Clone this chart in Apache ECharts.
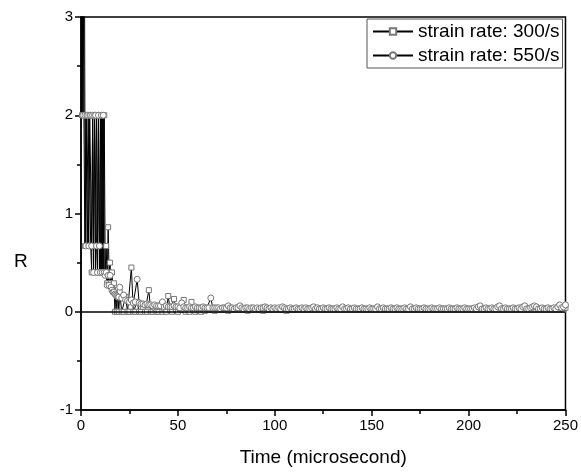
<!DOCTYPE html>
<html>
<head>
<meta charset="utf-8">
<script src="https://cdn.jsdelivr.net/npm/echarts@6/dist/echarts.min.js"></script>
<style>
html, body { margin: 0; padding: 0; background: #fff; }
#chart1 { width: 581px; height: 472px; }
</style>
</head>
<body>
<div id="chart1"></div>
<script>
// sampling: every 0.5 us up to 20 us, then every 1 us up to 250 us
var dtEarly = 0.5
var tSwitch = 20
var dtLate = 1

var seriesNames = ['strain rate: 300/s', 'strain rate: 550/s']

// R, strain rate 300/s, t = 0 ... 20 (step 0.5)
var r300Early = [
    4, 2, 4, 2, 0.67, 2, 2, 0.67, 2, 2,
    0.67, 0.4, 2, 0.67, 2, 0.4, 2, 0.67, 2, 0.4,
    2, 0.4, 2, 0.4, 2, 0.4, 0.67, 0.29, 0.86, 0.4,
    0.5, 0.29, 0.4, 0.22, 0.29, 0, 0.2, 0, 0.22, 0,
    0.2
]
// R, strain rate 300/s, t = 21 ... 250 (step 1)
var r300Late = [
    0, 0, 0.15, 0, 0, 0.45, 0, 0, 0.1,
    0, 0, 0.05, 0, 0, 0.22, 0, 0, 0.04, 0,
    0, 0.05, 0, 0.03, 0, 0.16, 0.02, 0, 0.13, 0.02,
    0, 0.03, 0.02, 0.12, 0, 0.02, 0, 0.1, 0.02, 0,
    0.02, 0.01, 0, 0.02, 0.01, 0.02, 0.03, 0.02, 0.02, 0.01,
    0.02, 0.02, 0.03, 0.02, 0.02, 0.02, 0.01, 0.02, 0.02, 0.03,
    0.02, 0.02, 0.02, 0.03, 0.02, 0.02, 0.01, 0.02, 0.02, 0.02,
    0.03, 0.02, 0.02, 0.02, 0.01, 0.02, 0.03, 0.02, 0.02, 0.02,
    0.02, 0.03, 0.02, 0.02, 0.02, 0.02, 0.01, 0.02, 0.02, 0.03,
    0.02, 0.02, 0.02, 0.02, 0.03, 0.02, 0.02, 0.02, 0.02, 0.02,
    0.03, 0.02, 0.02, 0.02, 0.02, 0.02, 0.03, 0.02, 0.02, 0.02,
    0.02, 0.02, 0.03, 0.02, 0.02, 0.02, 0.02, 0.03, 0.02, 0.02,
    0.02, 0.02, 0.02, 0.03, 0.02, 0.02, 0.02, 0.02, 0.02, 0.03,
    0.02, 0.02, 0.02, 0.02, 0.02, 0.02, 0.03, 0.02, 0.02, 0.02,
    0.02, 0.03, 0.02, 0.02, 0.02, 0.02, 0.02, 0.02, 0.03, 0.02,
    0.02, 0.02, 0.02, 0.03, 0.02, 0.02, 0.02, 0.02, 0.02, 0.02,
    0.03, 0.02, 0.02, 0.02, 0.02, 0.02, 0.03, 0.02, 0.02, 0.02,
    0.02, 0.02, 0.02, 0.03, 0.02, 0.02, 0.02, 0.02, 0.02, 0.03,
    0.02, 0.02, 0.02, 0.02, 0.02, 0.03, 0.02, 0.02, 0.02, 0.02,
    0.02, 0.02, 0.03, 0.02, 0.02, 0.02, 0.02, 0.03, 0.02, 0.02,
    0.02, 0.02, 0.02, 0.02, 0.03, 0.02, 0.02, 0.02, 0.02, 0.02,
    0.03, 0.02, 0.02, 0.02, 0.02, 0.02, 0.02, 0.03, 0.02, 0.02,
    0.02, 0.02, 0.03, 0.02, 0.02, 0.02, 0.02, 0.02, 0.03, 0.02,
    0.04
]

// R, strain rate 550/s, t = 0 ... 20 (step 0.5)
var r550Early = [
    6, 3.5, 2, 6, 2, 0.67, 2, 2, 0.67, 2,
    2, 0.67, 2, 0.4, 2, 2, 0.67, 0.4, 2, 0.67,
    0.4, 2, 0.4, 2, 0.4, 0.37, 0.4, 0.27, 0.37, 0.27,
    0.37, 0.25, 0.22, 0.2, 0.2, 0.18, 0.17, 0.16, 0.15, 0.15,
    0.25
]
// R, strain rate 550/s, t = 21 ... 250 (step 1)
var r550Late = [
    0.14, 0.17, 0.12, 0.11, 0.1, 0.12, 0.09, 0.1, 0.33,
    0.09, 0.08, 0.08, 0.07, 0.08, 0.07, 0.07, 0.06, 0.07, 0.06,
    0.06, 0.06, 0.1, 0.05, 0.06, 0.05, 0.05, 0.05, 0.06, 0.05,
    0.05, 0.04, 0.09, 0.05, 0.04, 0.04, 0.05, 0.04, 0.04, 0.05,
    0.04, 0.04, 0.04, 0.05, 0.04, 0.04, 0.04, 0.14, 0.04, 0.04,
    0.04, 0.04, 0.03, 0.04, 0.04, 0.04, 0.06, 0.04, 0.04, 0.03,
    0.04, 0.04, 0.06, 0.04, 0.03, 0.04, 0.04, 0.03, 0.04, 0.04,
    0.03, 0.04, 0.03, 0.04, 0.04, 0.05, 0.04, 0.03, 0.04, 0.03,
    0.04, 0.03, 0.04, 0.03, 0.05, 0.04, 0.03, 0.03, 0.04, 0.03,
    0.03, 0.04, 0.03, 0.03, 0.04, 0.03, 0.04, 0.03, 0.03, 0.04,
    0.05, 0.03, 0.04, 0.03, 0.03, 0.04, 0.03, 0.03, 0.04, 0.03,
    0.03, 0.03, 0.04, 0.03, 0.03, 0.05, 0.03, 0.03, 0.04, 0.03,
    0.03, 0.04, 0.03, 0.03, 0.03, 0.04, 0.03, 0.03, 0.03, 0.04,
    0.03, 0.03, 0.03, 0.05, 0.03, 0.03, 0.04, 0.03, 0.03, 0.03,
    0.04, 0.03, 0.03, 0.04, 0.03, 0.03, 0.03, 0.04, 0.03, 0.03,
    0.05, 0.03, 0.03, 0.04, 0.03, 0.03, 0.03, 0.04, 0.03, 0.03,
    0.03, 0.04, 0.03, 0.03, 0.03, 0.04, 0.03, 0.03, 0.03, 0.03,
    0.04, 0.03, 0.03, 0.03, 0.04, 0.03, 0.03, 0.03, 0.04, 0.03,
    0.03, 0.03, 0.03, 0.04, 0.03, 0.05, 0.06, 0.03, 0.03, 0.04,
    0.03, 0.03, 0.04, 0.03, 0.03, 0.05, 0.06, 0.03, 0.03, 0.04,
    0.03, 0.03, 0.03, 0.04, 0.03, 0.03, 0.04, 0.03, 0.05, 0.06,
    0.03, 0.03, 0.04, 0.05, 0.06, 0.05, 0.03, 0.03, 0.04, 0.03,
    0.03, 0.04, 0.03, 0.03, 0.04, 0.03, 0.05, 0.07, 0.04, 0.05,
    0.07
]

var xTicks = [0, 50, 100, 150, 200, 250]
var yTicks = [-1, 0, 1, 2, 3]

function toPoints (early, late) {
    var pts = early.map(function (v, i) { return [i * dtEarly, v] })
    late.forEach(function (v, i) { pts.push([tSwitch + (i + 1) * dtLate, v]) })
    return pts
}

function _initChart () {
    var myChart = echarts.init(document.getElementById('chart1'))
    var font = 'Liberation Sans, Arial, sans-serif'
    var option = {
        animation: false,
        backgroundColor: '#fff',
        grid: {
            left: 81,
            right: 13,
            top: 17,
            bottom: 62,
            show: true,
            borderColor: '#000',
            borderWidth: 1.5
        },
        legend: {
            orient: 'vertical',
            left: 367,
            top: 19,
            padding: [3, 3, 3, 5],
            itemGap: 5,
            itemWidth: 40,
            itemHeight: 8,
            borderColor: '#555',
            borderWidth: 1,
            textStyle: { fontFamily: font, fontSize: 19, color: '#000' },
            data: seriesNames
        },
        graphic: [{
            type: 'text',
            left: 14,
            top: 252,
            style: { text: 'R', font: '19px ' + font, fill: '#000' }
        }],
        xAxis: {
            type: 'value',
            min: xTicks[0],
            max: xTicks[xTicks.length - 1],
            interval: 50,
            name: 'Time (microsecond)',
            nameLocation: 'middle',
            nameGap: 38,
            nameTextStyle: { fontFamily: font, fontSize: 19, color: '#000' },
            axisLine: { onZero: false, lineStyle: { color: '#000', width: 1.5 } },
            axisTick: { inside: false, length: 6, lineStyle: { color: '#000', width: 1.5 } },
            minorTick: { show: true, splitNumber: 2, length: 4, lineStyle: { color: '#000', width: 1.5 } },
            axisLabel: { fontFamily: font, fontSize: 15, color: '#000', margin: 8 },
            splitLine: { show: false }
        },
        yAxis: {
            type: 'value',
            min: yTicks[0],
            max: yTicks[yTicks.length - 1],
            interval: 1,
            axisLine: { lineStyle: { color: '#000', width: 1.5 } },
            axisTick: { inside: false, length: 6, lineStyle: { color: '#000', width: 1.5 } },
            minorTick: { show: true, splitNumber: 2, length: 4, lineStyle: { color: '#000', width: 1.5 } },
            axisLabel: { fontFamily: font, fontSize: 15, color: '#000', margin: 8 },
            splitLine: { show: false }
        },
        series: [
            {
                name: seriesNames[0],
                type: 'line',
                data: toPoints(r300Early, r300Late),
                symbol: 'rect',
                symbolSize: 5,
                showSymbol: true,
                showAllSymbol: true,
                lineStyle: { color: '#000', width: 1 },
                itemStyle: { color: '#fff', borderColor: '#777', borderWidth: 1 },
                markLine: {
                    silent: true,
                    symbol: 'none',
                    label: { show: false },
                    lineStyle: { color: '#000', width: 1.5, type: 'solid' },
                    data: [{ yAxis: 0 }]
                }
            },
            {
                name: seriesNames[1],
                type: 'line',
                data: toPoints(r550Early, r550Late),
                symbol: 'circle',
                symbolSize: 6,
                showSymbol: true,
                showAllSymbol: true,
                lineStyle: { color: '#000', width: 1 },
                itemStyle: { color: '#fff', borderColor: '#777', borderWidth: 1 }
            }
        ]
    }
    myChart.setOption(option)
}

_initChart()
</script>
</body>
</html>
